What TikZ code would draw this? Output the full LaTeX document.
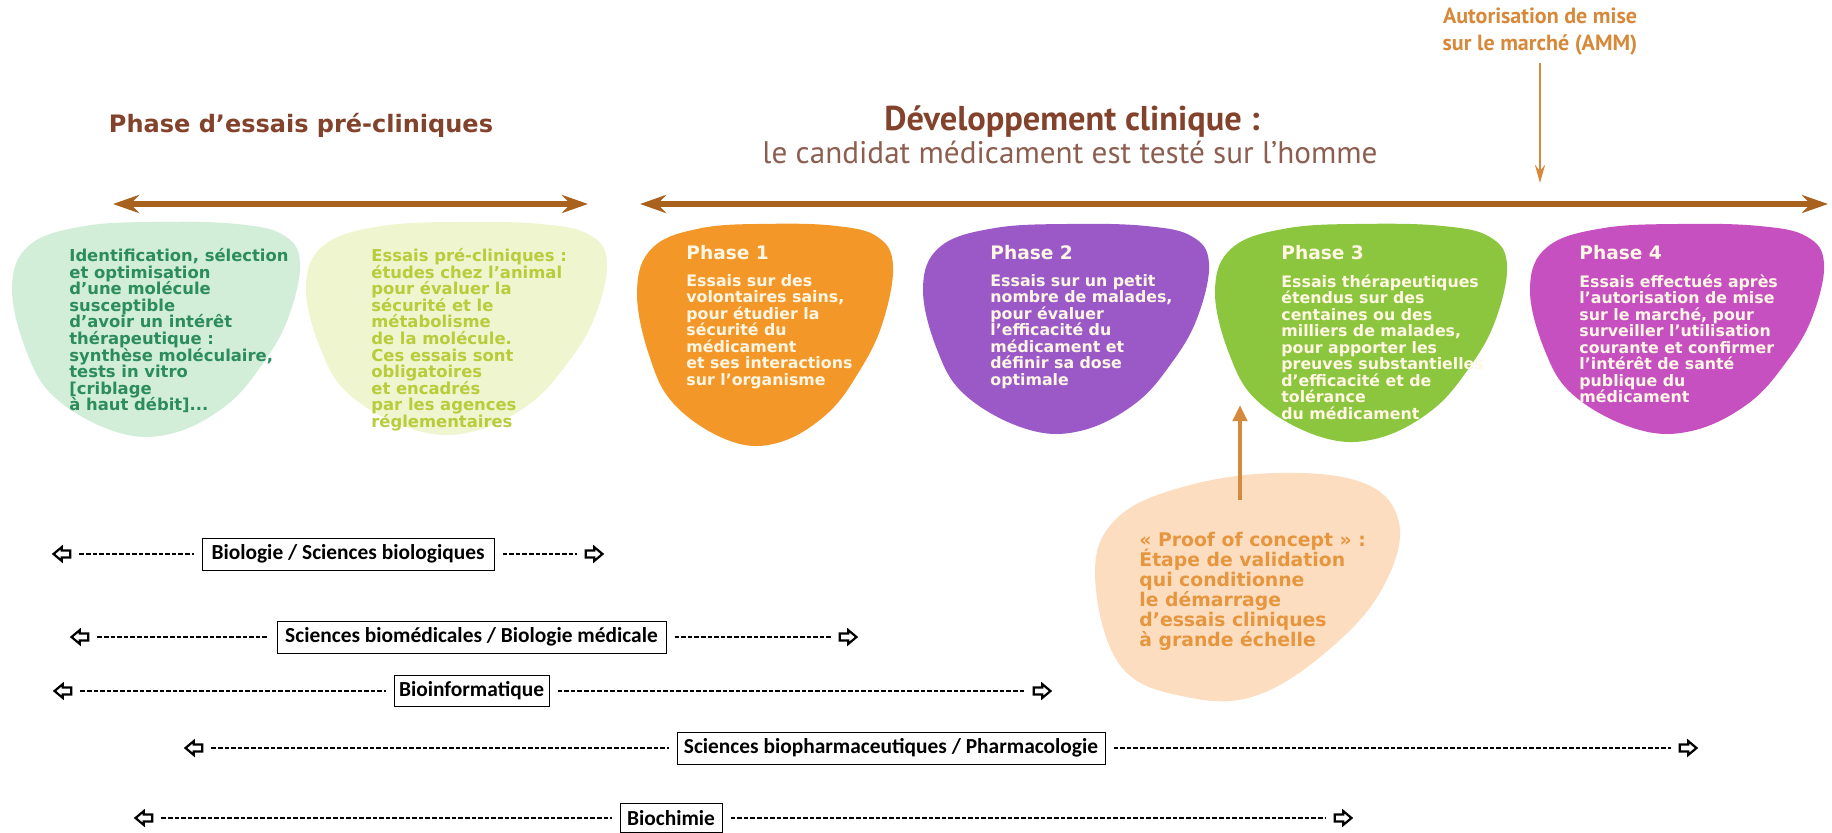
\documentclass[tikz,border=0pt]{standalone}
\usepackage{fontspec}
\setmainfont{DejaVu Sans}
\newfontfamily\pebblefont{DejaVu Sans}
\newfontfamily\headfont{PT Sans}
\newfontfamily\boxfont{Carlito}
\usetikzlibrary{arrows.meta,shapes.arrows}
\setlength{\lineskiplimit}{-10pt}

\definecolor{brownline}{RGB}{168,98,30}
\definecolor{titlebrown}{RGB}{130,66,44}
\definecolor{subbrown}{RGB}{140,94,80}
\definecolor{ammorange}{RGB}{214,137,58}
\definecolor{mintfill}{RGB}{210,238,216}
\definecolor{minttext}{RGB}{44,140,92}
\definecolor{limefill}{RGB}{239,245,206}
\definecolor{limetext}{RGB}{184,204,60}
\definecolor{phaseone}{RGB}{243,152,40}
\definecolor{phasetwo}{RGB}{155,89,200}
\definecolor{phasethree}{RGB}{140,198,62}
\definecolor{phasefour}{RGB}{198,80,192}
\definecolor{phasetext}{RGB}{255,246,228}
\definecolor{peachfill}{RGB}{252,221,192}
\definecolor{peachtext}{RGB}{230,150,62}

\tikzset{
    pics/pebble/.style={code={
        \fill[#1] plot[smooth cycle, tension=0.65] coordinates {(0.0,0.30) (0.06,0.10) (0.25,0.01) (0.52,-0.01) (0.78,0.0) (0.94,0.05) (1.0,0.18) (0.96,0.44) (0.87,0.66) (0.74,0.86) (0.55,0.99) (0.36,0.98) (0.15,0.82) (0.05,0.60)};
    }},
    pics/roundpebble/.style={code={
        \fill[#1] plot[smooth cycle, tension=0.65] coordinates {(0.01,0.45) (0.08,0.20) (0.30,0.06) (0.60,0.0) (0.88,0.04) (1.0,0.20) (0.97,0.45) (0.82,0.72) (0.55,0.97) (0.30,0.98) (0.09,0.84)};
    }},
    pretitle/.style={font=\pebblefont\bfseries\fontsize{12}{14}\selectfont, text=titlebrown},
    clintitle/.style={font=\headfont\bfseries\fontsize{17.2}{20}\selectfont, text=titlebrown},
    clinsub/.style={font=\headfont\fontsize{15.6}{18}\selectfont, text=subbrown},
    ammtext/.style={align=center, font=\headfont\bfseries\fontsize{11}{13.5}\selectfont, text=ammorange},
    pebbletext/.style={anchor=north west, inner sep=0pt, align=left, font=\pebblefont\bfseries\fontsize{8.2}{8.3}\selectfont},
    phasebody/.style={pebbletext, text=phasetext, font=\pebblefont\bfseries\fontsize{7.9}{8.25}\selectfont},
    phasetitle/.style={anchor=north west, inner sep=0pt, font=\pebblefont\bfseries\fontsize{9.3}{11}\selectfont, text=phasetext},
    prooftext/.style={anchor=north west, inner sep=0pt, align=left, font=\pebblefont\bfseries\fontsize{9.4}{10}\selectfont, text=peachtext},
    timeline/.style={brownline, line width=3pt, {Stealth[length=13pt,width=9pt]}-{Stealth[length=13pt,width=9pt]}},
    ammarrow/.style={ammorange, line width=1.4pt, -{Stealth[length=9pt,width=5pt]}},
    proofarrow/.style={draw={rgb,255:red,212;green,138;blue,60}, line width=2pt, -{Triangle[length=8pt,width=7pt]}},
    fieldbox/.style={draw=black, line width=0.5pt, minimum height=13.5pt, inner xsep=2pt, font=\boxfont\bfseries\fontsize{10.7}{12}\selectfont},
    fieldarrow/.style={single arrow, draw=black, fill=white, line width=1.1pt, inner xsep=0pt, inner ysep=1.2pt, minimum height=8.4pt, minimum width=5.6pt, single arrow head extend=1.7pt, single arrow tip angle=80},
    leftarrow/.style={fieldarrow, shape border rotate=180},
    fieldline/.style={line width=0.8pt, dash pattern=on 2.3pt off 1pt, shorten <=4pt, shorten >=4pt},
}

\begin{document}
\begin{tikzpicture}[x=0.5pt, y=-0.5pt]
        \useasboundingbox (0,0) rectangle (1832,832);

        % headings
        \node[pretitle] (preclin) at (301,125) {Phase d’essais pré-cliniques};
        \node[clintitle] (clin) at (1072,122) {Développement clinique :};
        \node[clinsub] (clinsub) at (1070,152) {le candidat médicament est testé sur l’homme};
        \node[ammtext] (amm) at (1540,32) {Autorisation de mise\\sur le marché (AMM)};

        \coordinate (preL) at (113,204);
        \coordinate (preR) at (588,204);
        \coordinate (clinL) at (640,204);
        \coordinate (clinR) at (1828,204);
        \coordinate (ammtip) at (1540,183);
        \draw[timeline] (preL) -- (preR);
        \draw[timeline] (clinL) -- (clinR);
        \draw[ammarrow] (amm) -- (ammtip);

        % pebbles
        \pic[xscale=288, yscale=212] at (12,224) {pebble=mintfill};
        \pic[xscale=301, yscale=210] at (306,224) {pebble=limefill};
        \pic[xscale=256, yscale=219] at (637,226) {pebble=phaseone};
        \pic[xscale=286, yscale=207] at (923,226) {pebble=phasetwo};
        \pic[xscale=292, yscale=215] at (1215,226) {pebble=phasethree};
        \pic[xscale=294, yscale=207] at (1530,226) {pebble=phasefour};
        \pic[xscale=306, yscale=228] at (1092,473) {roundpebble=peachfill};

        \node[pebbletext, text=minttext] (ident) at (69,248) {Identification, sélection\\et optimisation\\d’une molécule\\susceptible\\d’avoir un intérêt\\thérapeutique :\\synthèse moléculaire,\\tests in vitro\\{[}criblage\\à haut débit{]}...};
        \node[pebbletext, text=limetext] (animal) at (371,248) {Essais pré-cliniques :\\études chez l’animal\\pour évaluer la\\sécurité et le\\métabolisme\\de la molécule.\\Ces essais sont\\obligatoires\\et encadrés\\par les agences\\réglementaires};

        \node[phasetitle] (p1title) at (686,245) {Phase 1};
        \node[phasetitle] (p2title) at (990,245) {Phase 2};
        \node[phasetitle] (p3title) at (1281,245) {Phase 3};
        \node[phasetitle] (p4title) at (1579,245) {Phase 4};

        \node[phasebody] (p1) at (686,274) {Essais sur des\\volontaires sains,\\pour étudier la\\sécurité du\\médicament\\et ses interactions\\sur l’organisme};
        \node[phasebody] (p2) at (990,274) {Essais sur un petit\\nombre de malades,\\pour évaluer\\l’efficacité du\\médicament et\\définir sa dose\\optimale};
        \node[phasebody] (p3) at (1281,274) {Essais thérapeutiques\\étendus sur des\\centaines ou des\\milliers de malades,\\pour apporter les\\preuves substantielles\\d’efficacité et de\\tolérance\\du médicament};
        \node[phasebody] (p4) at (1579,274) {Essais effectués après\\l’autorisation de mise\\sur le marché, pour\\surveiller l’utilisation\\courante et confirmer\\l’intérêt de santé\\publique du\\médicament};

        \node[prooftext] (proof) at (1139,532) {« Proof of concept » :\\Étape de validation\\qui conditionne\\le démarrage\\d’essais cliniques\\à grande échelle};
        \coordinate (proofstart) at (1240,500);
        \coordinate (prooftip) at (1240,405);
        \draw[proofarrow] (proofstart) -- (prooftip);

        % disciplines
        \node[leftarrow] (bioL) at (64,554) {};
        \node[fieldbox, minimum width=146pt] (bio) at (348,554) {Biologie / Sciences biologiques};
        \node[fieldarrow] (bioR) at (592,554) {};
        \draw[fieldline] (bioL) -- (bio);
        \draw[fieldline] (bio) -- (bioR);

        \node[leftarrow] (medL) at (82,637) {};
        \node[fieldbox, minimum width=194.5pt] (med) at (471.5,637) {Sciences biomédicales / Biologie médicale};
        \node[fieldarrow] (medR) at (846,637) {};
        \draw[fieldline] (medL) -- (med);
        \draw[fieldline] (med) -- (medR);

        \node[leftarrow] (infoL) at (65,691) {};
        \node[fieldbox, minimum width=77.5pt] (info) at (471.5,691) {Bioinformatique};
        \node[fieldarrow] (infoR) at (1040,691) {};
        \draw[fieldline] (infoL) -- (info);
        \draw[fieldline] (info) -- (infoR);

        \node[leftarrow] (pharmaL) at (196,748) {};
        \node[fieldbox, minimum width=214pt] (pharma) at (891,748) {Sciences biopharmaceutiques / Pharmacologie};
        \node[fieldarrow] (pharmaR) at (1686,748) {};
        \draw[fieldline] (pharmaL) -- (pharma);
        \draw[fieldline] (pharma) -- (pharmaR);

        \node[leftarrow] (chemL) at (146,818) {};
        \node[fieldbox, minimum width=51pt] (chem) at (671,818) {Biochimie};
        \node[fieldarrow] (chemR) at (1341,818) {};
        \draw[fieldline] (chemL) -- (chem);
        \draw[fieldline] (chem) -- (chemR);

    \end{tikzpicture}
\end{document}
